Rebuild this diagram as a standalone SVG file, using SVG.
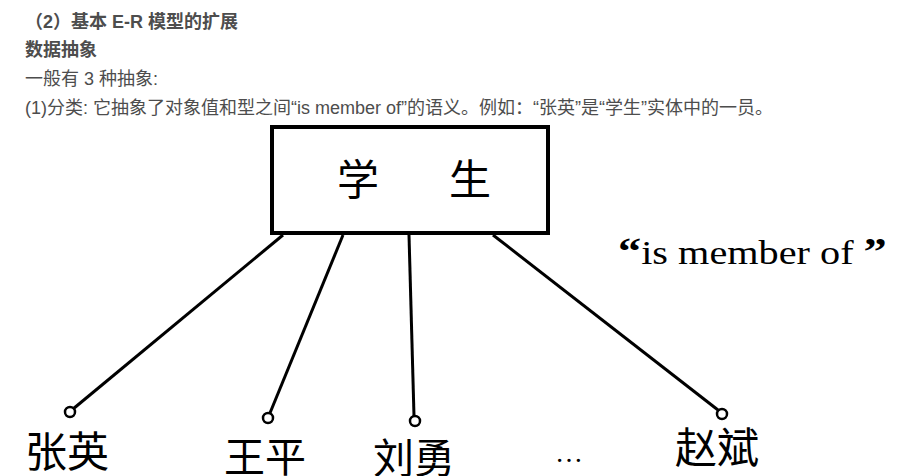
<svg xmlns="http://www.w3.org/2000/svg" width="917" height="476" viewBox="0 0 917 476">
<style>
.t{font-family:"Liberation Sans","Noto Sans CJK SC",sans-serif;font-size:18px;fill:#4d4d4d}
.b{font-weight:bold}
.cj{font-family:"Noto Sans CJK SC",sans-serif;fill:#000}
.ln{stroke:#000;stroke-width:3;fill:none}
.c{stroke:#000;stroke-width:2.5;fill:#fff}
</style>
<rect width="917" height="476" fill="#fff"/>
<g id="header">
<text class="t b" x="25" y="28">（2）基本 E-R 模型的扩展</text>
<text class="t b" x="25" y="56">数据抽象</text>
<text class="t" x="25" y="85">一般有 3 种抽象:</text>
<text class="t" x="25" y="114">(1)分类: 它抽象了对象值和型之间“is member of”的语义。例如：“张英”是“学生”实体中的一员。</text>
</g>
<g id="connectors">
<line class="ln" x1="283" y1="235" x2="73" y2="409"/>
<line class="ln" x1="343" y1="235" x2="270" y2="413"/>
<line class="ln" x1="409" y1="235" x2="414" y2="416"/>
<line class="ln" x1="493" y1="235" x2="718" y2="410"/>
<circle class="c" cx="70" cy="412" r="5"/>
<circle class="c" cx="268" cy="418" r="5"/>
<circle class="c" cx="415" cy="421" r="5"/>
<circle class="c" cx="722" cy="414" r="5"/>
</g>
<g id="student">
<rect x="272" y="127" width="276" height="106" fill="#fff" stroke="#000" stroke-width="4"/>
<text class="cj" x="358" y="195" font-size="42" text-anchor="middle">学</text>
<text class="cj" x="470" y="195" font-size="42" text-anchor="middle">生</text>
</g>
<g id="label">
<text transform="translate(618,264) scale(1.22,1)" font-family="Liberation Serif,serif" font-size="33" fill="#000"><tspan font-weight="bold" font-size="38">“</tspan>is member of <tspan font-weight="bold" font-size="38">”</tspan></text>
</g>
<g id="zhangying"><text class="cj" x="25" y="467" font-size="42">张英</text></g>
<g id="wangping"><text class="cj" x="224" y="472" font-size="41">王平</text></g>
<g id="liuyong"><text class="cj" x="373" y="473" font-size="41">刘勇</text></g>
<g id="etc"><text x="555" y="462" font-family="Liberation Serif,serif" font-size="28" fill="#000">…</text></g>
<g id="zhaobin"><text class="cj" x="675" y="463" font-size="42">赵斌</text></g>
</svg>
